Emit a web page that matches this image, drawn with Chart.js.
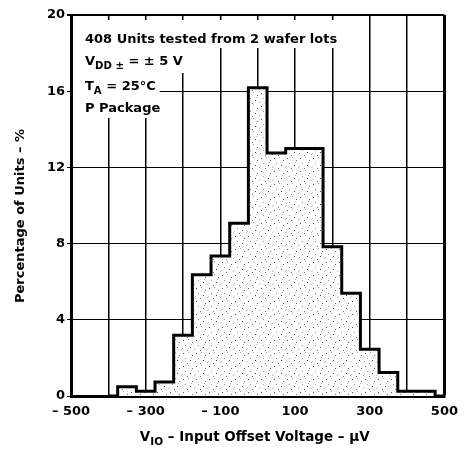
<!DOCTYPE html>
<html><head><meta charset="utf-8">
<script src="https://cdn.jsdelivr.net/npm/chart.js@4/dist/chart.umd.min.js"></script>
<style>html,body{margin:0;padding:0;background:#fff}#wrap{width:466px;height:454px;position:relative}</style>
</head><body><div id="wrap"><canvas id="c" width="466" height="454"></canvas></div>
<script>
// Bin centres (µV, bins 50 µV wide) and percentage of units per bin
const binCenters   = [-400, -350, -300, -250, -200, -150, -100, -50, 0, 50, 100, 150, 200, 250, 300, 350, 400, 450, 500];
const percentUnits = [0, 0.49, 0.245, 0.735, 3.19, 6.37, 7.35, 9.07, 16.18, 12.75, 12.99, 12.99, 7.84, 5.39, 2.45, 1.23, 0.245, 0.245, 0];
const xLabelValues = [-500, -300, -100, 100, 300, 500];
const xTickLabels  = ['\u2013 500', '\u2013 300', '\u2013 100', '100', '300', '500'];
const yTickValues  = [0, 4, 8, 12, 16, 20];
const noteLines = [
  [{t: '408 Units tested from 2 wafer lots'}],
  [{t: 'V'}, {t: 'DD \u00b1', sub: true}, {t: ' = \u00b1 5 V'}],
  [{t: 'T'}, {t: 'A', sub: true}, {t: ' = 25\u00b0C'}],
  [{t: 'P Package'}]
];
const xTitle = [{t: 'V'}, {t: 'IO', sub: true}, {t: ' \u2013 Input Offset Voltage \u2013 \u00b5V'}];
const yTitle = [{t: 'Percentage of Units \u2013 %'}];

const FAM = '"DejaVu Sans", "Liberation Sans", Arial, sans-serif';

function makeStipple() {
  const c = document.createElement('canvas');
  c.width = 13; c.height = 13;
  const g = c.getContext('2d');
  g.fillStyle = '#ffffff'; g.fillRect(0, 0, 13, 13);
  const dots = [[1,2,'#555'],[6,1,'#aaa'],[10,4,'#666'],[3,7,'#999'],[8,9,'#444'],[12,11,'#bbb'],[5,12,'#777'],[0,10,'#ccc'],[9,6,'#bbb']];
  dots.forEach(([x, y, col]) => { g.fillStyle = col; g.fillRect(x, y, 1, 1); });
  return g.createPattern(c, 'repeat');
}

function segWidth(ctx, segs, size) {
  let w = 0;
  segs.forEach(s => { ctx.font = 'bold ' + (s.sub ? size * 0.78 : size) + 'px ' + FAM; w += ctx.measureText(s.t).width; });
  return w;
}
function drawSegs(ctx, segs, x, y, size) {
  segs.forEach(s => {
    const sz = s.sub ? size * 0.78 : size;
    ctx.font = 'bold ' + sz + 'px ' + FAM;
    ctx.fillText(s.t, x, s.sub ? y + size * 0.3 : y);
    x += ctx.measureText(s.t).width;
  });
}

const textPlugin = {
  id: 'texts',
  afterDatasetsDraw(chart) {
    const ctx = chart.ctx, a = chart.chartArea;
    ctx.save();
    ctx.textBaseline = 'alphabetic';
    ctx.textAlign = 'left';
    const size = 13;
    const x0 = a.left + 14;
    const baselines = [a.top + 28, a.top + 50, a.top + 75, a.top + 97];
    const tops = [a.top + 5, a.top + 33, a.top + 56, a.top + 80];
    const bottoms = [a.top + 33, a.top + 58, a.top + 80, a.top + 103];
    const extra = [4, 26, 4, 4];
    // white boxes behind notes
    ctx.fillStyle = '#fff';
    noteLines.forEach((segs, i) => {
      const w = segWidth(ctx, segs, size);
      ctx.fillRect(a.left + 2, tops[i], x0 + w + extra[i] - (a.left + 2), bottoms[i] - tops[i]);
    });
    ctx.fillStyle = '#000';
    noteLines.forEach((segs, i) => drawSegs(ctx, segs, x0, baselines[i], size));
    // x title
    const ts = 13.5;
    const xw = segWidth(ctx, xTitle, ts);
    drawSegs(ctx, xTitle, (a.left + a.right) / 2 - xw / 2 - 3, 441, ts);
    // y title
    const ys = 13;
    const yw = segWidth(ctx, yTitle, ys);
    ctx.translate(24, 216);
    ctx.rotate(-Math.PI / 2);
    drawSegs(ctx, yTitle, -yw / 2, 0, ys);
    ctx.restore();
  }
};

const ctx = document.getElementById('c').getContext('2d');
new Chart(ctx, {
  type: 'line',
  data: {
    datasets: [{
      data: binCenters.map((x, i) => ({x: x, y: percentUnits[i]})),
      stepped: 'middle',
      borderColor: '#000',
      borderWidth: 3,
      borderJoinStyle: 'miter',
      pointRadius: 0,
      fill: 'origin',
      backgroundColor: makeStipple()
    }]
  },
  options: {
    responsive: false,
    animation: false,
    devicePixelRatio: 1,
    layout: {padding: {top: 15, right: 14, left: 0, bottom: 0}},
    plugins: {legend: {display: false}, tooltip: {enabled: false}},
    scales: {
      x: {
        type: 'linear', min: -500, max: 500,
        afterBuildTicks: (s) => { const t = []; for (let v = -500; v <= 500; v += 100) t.push({value: v}); s.ticks = t; },
        ticks: {
          autoSkip: false, maxRotation: 0, padding: 8, color: '#000',
          font: {family: FAM, weight: 'bold', size: 13},
          callback: (v) => { const k = xLabelValues.indexOf(v); return k >= 0 ? xTickLabels[k] : ''; }
        },
        grid: {color: '#000', lineWidth: (c) => (c.tick && c.tick.value === 500) ? 3 : 1.5, drawTicks: false},
        border: {display: true, color: '#000', width: 3},
        afterFit: (s) => { s.height = 58; }
      },
      y: {
        min: 0, max: 20,
        afterBuildTicks: (s) => { s.ticks = yTickValues.map(v => ({value: v})); },
        ticks: {padding: 2, color: '#000', font: {family: FAM, weight: 'bold', size: 13}},
        grid: {color: '#000', lineWidth: (c) => (c.tick && c.tick.value === 20) ? 2 : 1, tickLength: 4},
        border: {display: true, color: '#000', width: 3},
        afterFit: (s) => { s.width = 71; }
      }
    }
  },
  plugins: [textPlugin]
});
</script></body></html>
